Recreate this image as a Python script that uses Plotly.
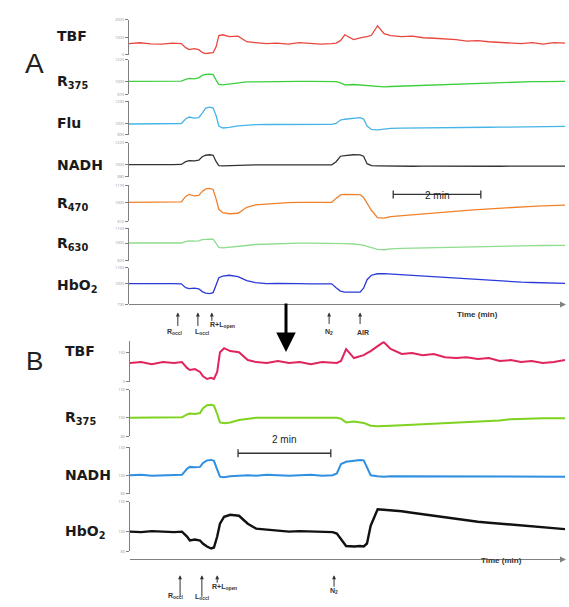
import plotly.graph_objects as go

W, H = 569, 607

# ---------------- Panel A: time (min) and traces ----------------
t_a = [0.0, 0.25, 0.5, 0.75, 1.0, 1.2, 1.3, 1.38, 1.5, 1.6,
       1.68, 1.76, 1.85, 1.93, 2.0, 2.06, 2.15, 2.3, 2.5, 2.7,
       2.9, 3.15, 3.4, 3.65, 3.9, 4.15, 4.4, 4.65, 4.75, 4.85,
       4.95, 5.15, 5.3, 5.38, 5.46, 5.56, 5.7, 5.85, 6.0, 6.25,
       6.5, 6.75, 7.0, 7.25, 7.5, 7.75, 8.0, 8.25, 8.5, 8.75,
       9.0, 9.25, 9.5, 9.75, 10.0]

tbf_a = [630, 680, 620, 600, 660, 630, 400, 290, 340, 280,
         120, 60, 90, 110, 460, 1090, 1140, 1030, 1060, 740,
         690, 630, 660, 600, 690, 630, 600, 630, 660, 800,
         1140, 860, 970, 1000, 1030, 1110, 1660, 1200, 1090, 1030,
         1060, 970, 940, 910, 860, 770, 800, 740, 690, 660,
         630, 690, 600, 690, 660]

r375_a = [1000, 1000, 1000, 1000, 1000, 1002, 1020, 1030, 1025, 1035,
          1060, 1070, 1072, 1068, 1010, 970, 965, 975, 985, 995,
          995, 998, 1000, 1000, 1000, 1000, 1000, 1000, 998, 985,
          965, 968, 962, 958, 955, 950, 946, 945, 948, 952,
          956, 960, 964, 968, 972, 976, 980, 985, 990, 993,
          995, 997, 998, 999, 1000]

flu_a = [1000, 1000, 998, 1000, 1000, 1005, 1050, 1070, 1060, 1065,
         1110, 1160, 1170, 1160, 1080, 980, 960, 965, 980, 990,
         993, 995, 996, 997, 997, 997, 997, 997, 1005, 1040,
         1048, 1058, 1065, 1050, 980, 945, 940, 948, 955, 958,
         960, 962, 962, 963, 964, 965, 966, 967, 968, 970,
         972, 973, 974, 975, 976]

nadh_a = [1000, 1002, 998, 1000, 1000, 1002, 1030, 1040, 1038, 1045,
          1080, 1095, 1100, 1095, 1030, 990, 988, 992, 995, 996,
          998, 997, 998, 996, 998, 997, 998, 998, 1030, 1085,
          1092, 1100, 1098, 1085, 1010, 990, 988, 986, 985, 986,
          984, 985, 984, 985, 984, 985, 983, 985, 984, 985,
          984, 985, 983, 984, 985]

r470_a = [1000, 1000, 1000, 1002, 1000, 1005, 1060, 1080, 1065, 1070,
          1110, 1135, 1140, 1130, 1030, 930, 895, 885, 890, 950,
          975, 985, 995, 998, 1000, 1000, 1000, 1000, 1040, 1075,
          1080, 1080, 1078, 1050, 990, 920, 845, 840, 855, 865,
          875, 885, 892, 900, 910, 918, 927, 935, 942, 948,
          955, 960, 964, 968, 972]

r630_a = [1000, 1000, 1000, 1000, 1000, 1000, 1015, 1020, 1018, 1022,
          1035, 1040, 1040, 1038, 990, 955, 950, 955, 965, 975,
          985, 990, 995, 997, 998, 998, 998, 998, 998, 996,
          993, 990, 985, 978, 965, 950, 935, 932, 940, 945,
          948, 951, 953, 955, 957, 959, 961, 963, 970, 972,
          973, 974, 975, 975, 976]

hbo2_a = [1000, 1002, 998, 1000, 1000, 998, 960, 950, 955, 948,
          920, 905, 900, 910, 990, 1060, 1075, 1085, 1070, 1030,
          1010, 1000, 1002, 998, 1000, 998, 1000, 998, 960, 925,
          915, 912, 915, 955, 1040, 1085, 1100, 1102, 1098, 1090,
          1083, 1075, 1068, 1060, 1053, 1045, 1040, 1030, 1025, 1020,
          1015, 1012, 1008, 1005, 1003]

# ---------------- Panel B: time (min) and traces ----------------
t_b = [0.0, 0.24, 0.47, 0.71, 0.95, 1.12, 1.23, 1.29, 1.40, 1.51,
       1.57, 1.66, 1.75, 1.81, 1.88, 1.94, 2.03, 2.16, 2.35, 2.54,
       2.72, 2.95, 3.19, 3.43, 3.66, 3.90, 4.14, 4.37, 4.46, 4.55,
       4.66, 4.83, 4.96, 5.04, 5.11, 5.19, 5.34, 5.47, 5.62, 5.86,
       6.08, 6.31, 6.55, 6.79, 7.03, 7.26, 7.50, 7.74, 7.97, 8.21,
       8.43, 8.66, 8.90, 9.14, 9.38]

tbf_b = [65, 68, 61, 68, 65, 68, 48, 41, 44, 34,
         20, 10, 14, 10, 34, 102, 116, 106, 102, 75,
         68, 65, 72, 65, 68, 61, 68, 65, 65, 72,
         113, 82, 89, 92, 99, 106, 123, 137, 113, 96,
         99, 92, 96, 85, 82, 85, 79, 82, 72, 75,
         68, 72, 65, 68, 75]

r375_b = [100, 100, 100.5, 100, 100, 100.5, 103.5, 104.5, 104, 105,
          110, 113.5, 114, 113, 104, 95, 94, 95, 97.5, 99,
          100, 100, 100, 100, 100, 100, 100, 100, 100, 99,
          95, 96, 95.5, 94.5, 93, 91.5, 91, 91, 91.5, 92,
          92.5, 93, 93.5, 94, 94.5, 95, 95.5, 96, 97, 98.5,
          99, 99, 99.5, 99.5, 99.5]

nadh_b = [100, 100.5, 99.5, 100, 100, 100.5, 107, 109, 108.5, 109,
          113, 116, 116.5, 115.5, 106, 98.5, 98, 99, 99.5, 100,
          99.5, 100.5, 100, 99.5, 100, 100.5, 99.5, 100, 102, 112,
          114.5, 116, 116.5, 116, 108, 100, 99, 98.5, 99, 99,
          98.5, 99, 98.5, 99, 98.5, 99, 98.5, 99, 98.5, 98.5,
          99, 98.5, 98.5, 99, 98.5]

hbo2_b = [100, 99.5, 100.5, 100, 99.5, 100, 95, 91, 92, 91,
          88, 85, 83, 84, 95, 108, 115, 117, 116, 108,
          103, 102, 101, 100, 100.5, 100, 100, 99.5, 98, 92,
          85.5, 85, 85.5, 85, 88, 106, 122.5, 122, 121.5, 120.5,
          119, 117.5, 116, 114.5, 113, 111.5, 110, 109, 108, 107,
          106, 105, 104, 103, 102.5]

# event markers (min) and their labels
events_a = [1.12, 1.58, 1.90, 4.59, 5.30]
events_b = [1.08, 1.55, 1.88, 4.40]
event_labels_a = ["R<sub>occl</sub>", "L<sub>occl</sub>", "R+L<sub>open</sub>", "N<sub>2</sub>", "AIR"]
event_labels_b = ["R<sub>occl</sub>", "L<sub>occl</sub>", "R+L<sub>open</sub>", "N<sub>2</sub>"]


def px(x):
    return x / W


def py(y):
    return 1 - y / H


GRAY = "#808080"
fig = go.Figure()

# (axis, label, times, values, color, width, top px, bottom px, range, ticks, xaxis)
rows = [
    ("y", "TBF", t_a, tbf_a, "#e8473f", 1.3, 17, 52, [0, 2000], [0, 1000, 2000], "x"),
    ("y2", "R<sub>375</sub>", t_a, r375_a, "#3ccf3c", 1.3, 57, 92, [870, 1220], [870, 1000, 1220], "x"),
    ("y3", "Flu", t_a, flu_a, "#46b4e6", 1.3, 99, 133, [890, 1230], [890, 1000, 1230], "x"),
    ("y4", "NADH", t_a, nadh_a, "#333333", 1.3, 141, 175, [880, 1220], [880, 1000, 1220], "x"),
    ("y5", "R<sub>470</sub>", t_a, r470_a, "#f0802a", 1.3, 184, 220, [810, 1170], [810, 1000, 1170], "x"),
    ("y6", "R<sub>630</sub>", t_a, r630_a, "#8fdc8f", 1.3, 227, 260, [820, 1150], [820, 1000, 1150], "x"),
    ("y7", "HbO<sub>2</sub>", t_a, hbo2_a, "#2a3ad8", 1.3, 267, 304, [790, 1160], [790, 1000, 1160], "x"),
    ("y8", "TBF", t_b, tbf_b, "#e0245c", 2.0, 341, 382, [0, 140], [0, 100], "x2"),
    ("y9", "R<sub>375</sub>", t_b, r375_b, "#7ed321", 2.0, 390, 437, [80, 130], [80, 100, 130], "x2"),
    ("y10", "NADH", t_b, nadh_b, "#2f8fe0", 2.0, 448, 495, [80, 130], [80, 100, 130], "x2"),
    ("y11", "HbO<sub>2</sub>", t_b, hbo2_b, "#111111", 2.4, 503, 553, [80, 130], [80, 100, 130], "x2"),
]

label_y = {"y": 33, "y2": 80, "y3": 121, "y4": 163, "y5": 203, "y6": 243, "y7": 285,
           "y8": 351, "y9": 418, "y10": 476, "y11": 533}

layout_axes = {}
annotations = []
for name, label, tt, vals, color, lw, top, bot, rng, ticks, xa in rows:
    fig.add_trace(go.Scatter(x=tt, y=vals, xaxis=xa, yaxis=name, mode="lines",
                             line=dict(color=color, width=lw), hoverinfo="skip"))
    key = "yaxis" if name == "y" else "yaxis" + name[1:]
    layout_axes[key] = dict(
        domain=[py(bot), py(top)], range=rng, anchor=xa,
        showline=True, linecolor=GRAY, linewidth=1.2,
        ticks="outside", ticklen=3, tickcolor=GRAY, tickwidth=1,
        tickvals=ticks, tickfont=dict(size=4, color="#999999"),
        showgrid=False, zeroline=False, fixedrange=True,
    )
    lx = 55 if xa == "x" else 63
    annotations.append(dict(
        text="<b>" + label + "</b>", x=px(lx), y=py(label_y[name]), xref="paper", yref="paper",
        xanchor="left", yanchor="middle", showarrow=False,
        font=dict(family="DejaVu Sans", size=14, color="#1a1a1a")))

# time axes
layout_axes["xaxis"] = dict(domain=[px(129), px(565)], range=[0, 10], anchor="free",
                            position=py(304), showline=True, linecolor=GRAY, linewidth=1.2,
                            showticklabels=False, ticks="", showgrid=False, zeroline=False)
layout_axes["xaxis2"] = dict(domain=[px(130), px(565)], range=[0, 9.38], anchor="free",
                             position=py(561), showline=True, linecolor=GRAY, linewidth=1.2,
                             showticklabels=False, ticks="", showgrid=False, zeroline=False)

# axis arrow tips and axis titles
for yy in (304, 561):
    annotations.append(dict(x=px(566), y=py(yy), xref="paper", yref="paper", text="",
                            showarrow=True, ax=-8, ay=0, arrowhead=2, arrowsize=1,
                            arrowwidth=1.2, arrowcolor=GRAY))
annotations.append(dict(text="<b>Time (min)</b>", x=px(500), y=py(314), xref="paper", yref="paper",
                        showarrow=False, font=dict(family="Liberation Sans", size=8, color="#333")))
annotations.append(dict(text="<b>Time (min)</b>", x=px(524), y=py(569), xref="paper", yref="paper",
                        showarrow=False, font=dict(family="Liberation Sans", size=8, color="#333")))

# panel letters
annotations.append(dict(text="A", x=px(23), y=py(43), xref="paper", yref="paper", showarrow=False,
                        font=dict(family="Liberation Sans", size=28, color="#222")))
annotations.append(dict(text="B", x=px(24), y=py(361), xref="paper", yref="paper", showarrow=False,
                        font=dict(family="Liberation Sans", size=26, color="#222")))

EV_FONT = dict(family="Liberation Sans", size=7, color="#333")

# event arrows, panel A (labels placed by their left edge)
ev_a_tail = [327, 327, 322, 325, 325]
ev_a_lab = [(165, 332, "left"), (193, 332, "left"), (208, 325, "left"),
            (329, 332, "center"), (363, 332, "center")]
for t, tail, txt, (lx, ly, anc) in zip(events_a, ev_a_tail, event_labels_a, ev_a_lab):
    annotations.append(dict(x=t, y=py(312), xref="x", yref="paper", text="", showarrow=True,
                            ax=0, ay=tail - 312, arrowhead=2, arrowsize=0.8, arrowwidth=1,
                            arrowcolor="#333"))
    annotations.append(dict(text="<b>" + txt + "</b>", x=px(lx), y=py(ly), xref="paper", yref="paper",
                            xanchor=anc, showarrow=False, font=EV_FONT))

# event arrows, panel B
ev_b_tail = [600, 600, 586, 590]
ev_b_lab = [(166, 604, "left"), (193, 605, "left"), (210, 595, "left"), (334, 599, "center")]
for t, tail, txt, (lx, ly, anc) in zip(events_b, ev_b_tail, event_labels_b, ev_b_lab):
    annotations.append(dict(x=t, y=py(577), xref="x2", yref="paper", text="", showarrow=True,
                            ax=0, ay=tail - 577, arrowhead=2, arrowsize=0.8, arrowwidth=1,
                            arrowcolor="#333"))
    annotations.append(dict(text="<b>" + txt + "</b>", x=px(lx), y=py(ly), xref="paper", yref="paper",
                            xanchor=anc, showarrow=False, font=EV_FONT))

# big arrow between panels
annotations.append(dict(x=px(286), y=py(352), xref="paper", yref="paper", text="", showarrow=True,
                        ax=0, ay=-50, arrowhead=2, arrowsize=1.3, arrowwidth=3, arrowcolor="#000"))

# 2 min scale bars
shapes = []
for xr, x0, x1, yb in (("x", 6.06, 8.07, 193), ("x2", 2.33, 4.33, 454)):
    shapes.append(dict(type="line", xref=xr, yref="paper", x0=x0, x1=x1, y0=py(yb), y1=py(yb),
                       line=dict(color="#333", width=1.3)))
    for xe in (x0, x1):
        shapes.append(dict(type="line", xref=xr, yref="paper", x0=xe, x1=xe, y0=py(yb - 4), y1=py(yb + 4),
                           line=dict(color="#333", width=1.3)))
    annotations.append(dict(text="2 min", x=(x0 + x1) / 2, y=py(yb - 6), xref=xr, yref="paper",
                            showarrow=False, font=dict(family="Liberation Sans", size=10, color="#222")))

fig.update_layout(
    width=W, height=H, margin=dict(l=0, r=0, t=0, b=0),
    paper_bgcolor="white", plot_bgcolor="white", showlegend=False,
    annotations=annotations, shapes=shapes, **layout_axes,
)

fig.write_html("out.html")
